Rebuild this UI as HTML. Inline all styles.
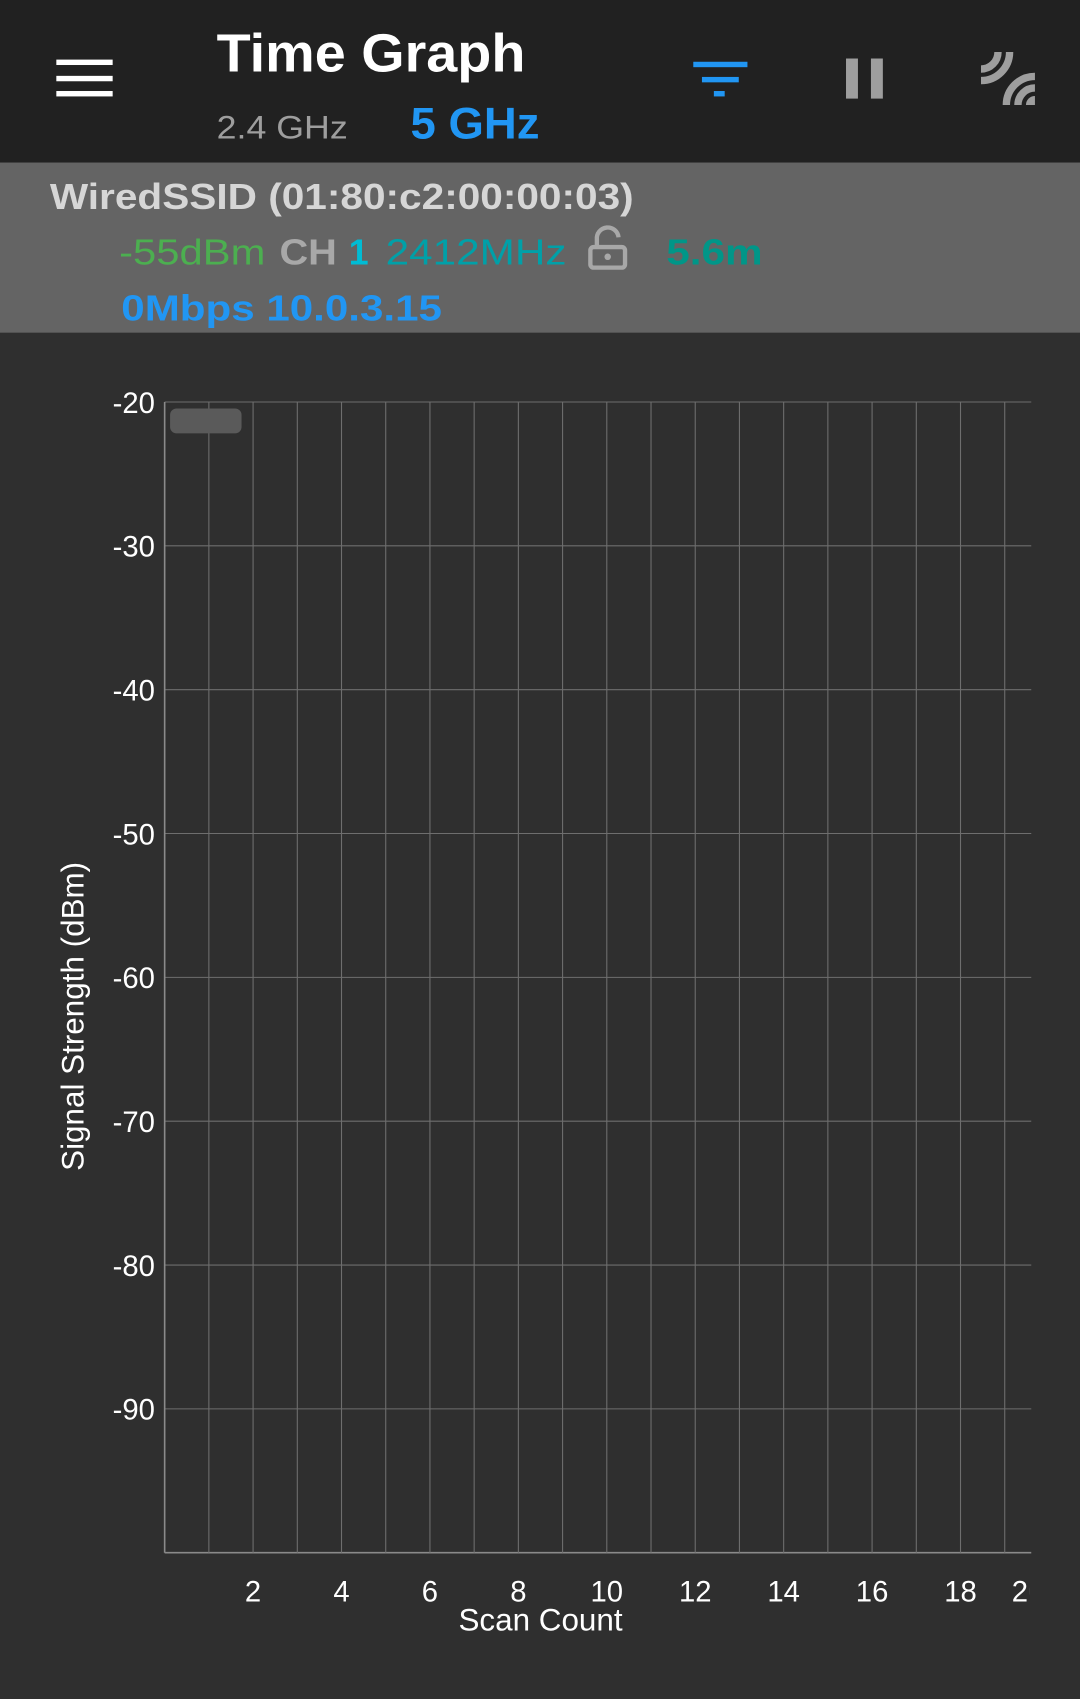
<!DOCTYPE html>
<html><head><meta charset="utf-8"><style>
html,body{margin:0;padding:0;background:#2f2f2f;}
svg{display:block;font-family:"Liberation Sans",sans-serif;}
</style></head><body>
<svg id="s" width="1080" height="1699" viewBox="0 0 997 1568" preserveAspectRatio="none">
<defs><clipPath id="plotclip"><rect x="0" y="1440" width="950" height="60"/></clipPath></defs>
<rect x="0" y="0" width="997" height="1568" fill="#2f2f2f"/>
<g>
<rect x="0" y="0" width="997" height="150" fill="#212121"/>
<g fill="#fff">
<rect x="52" y="55" width="52" height="5"/><rect x="52" y="70" width="52" height="5"/><rect x="52" y="84" width="52" height="5"/>
</g>
<text x="200" y="66" font-size="50" font-weight="bold" fill="#fff" textLength="285" lengthAdjust="spacingAndGlyphs">Time Graph</text>
<text x="200" y="128" font-size="30" fill="#9e9e9e" textLength="121" lengthAdjust="spacingAndGlyphs">2.4 GHz</text>
<text x="379" y="128" font-size="41" font-weight="bold" fill="#2196f3" textLength="119" lengthAdjust="spacingAndGlyphs">5 GHz</text>
<g fill="#2196f3">
<rect x="640" y="57" width="50" height="5"/><rect x="648" y="71" width="34" height="5"/><rect x="659" y="84" width="10" height="5"/>
</g>
<g fill="#9e9e9e">
<rect x="781" y="54" width="11" height="37"/><rect x="804" y="54" width="11" height="37"/>
</g>
<g>
<g fill="none" stroke="#9e9e9e" stroke-width="6.8">
<path d="M905.6 63.7 A15.7 15.7 0 0 0 921.3 48"/>
<path d="M905.6 74.4 A26.4 26.4 0 0 0 932 48"/>
<path d="M929 96.9 A26.4 26.4 0 0 1 955.4 70.5"/>
<path d="M939.7 96.9 A15.7 15.7 0 0 1 955.4 81.2"/>
</g>
<path d="M947.1 96.9 A8.3 8.3 0 0 1 955.4 88.6 V96.9 Z" fill="#9e9e9e"/>
</g>
</g>
<g>
<rect x="0" y="150" width="997" height="157" fill="#646464"/>
<text x="46" y="193" font-size="33" font-weight="bold" fill="#d6d6d6" textLength="539" lengthAdjust="spacingAndGlyphs">WiredSSID (01:80:c2:00:00:03)</text>
<text x="110" y="244" font-size="33" fill="#4caf50" textLength="135" lengthAdjust="spacingAndGlyphs">-55dBm</text>
<text x="258" y="244" font-size="33" font-weight="bold" fill="#a8a8a8" textLength="53" lengthAdjust="spacingAndGlyphs">CH</text>
<text x="322" y="244" font-size="33" font-weight="bold" fill="#00bcd4">1</text>
<text x="356" y="244" font-size="33" fill="#00a0a8" textLength="167" lengthAdjust="spacingAndGlyphs">2412MHz</text>
<g>
<rect x="545" y="228" width="32" height="19" rx="3" fill="none" stroke="#a8a8a8" stroke-width="4"/>
<path d="M551 228 V221 A10 10 0 0 1 571 219" fill="none" stroke="#a8a8a8" stroke-width="4"/>
<circle cx="561" cy="237" r="3" fill="#a8a8a8"/>
</g>
<text x="615" y="244" font-size="33" font-weight="bold" fill="#009688" textLength="89" lengthAdjust="spacingAndGlyphs">5.6m</text>
<text x="112" y="296" font-size="33" font-weight="bold" fill="#2196f3" textLength="296" lengthAdjust="spacingAndGlyphs">0Mbps 10.0.3.15</text>
</g>
<g id="chart"></g>
</svg>
<script>
const yTicks = [-20, -30, -40, -50, -60, -70, -80, -90];
const yGrid = [-20, -30, -40, -50, -60, -70, -80, -90, -100];
const xTicks = [2, 4, 6, 8, 10, 12, 14, 16, 18, 20];
const xGrid = [1, 2, 3, 4, 5, 6, 7, 8, 9, 10, 11, 12, 13, 14, 15, 16, 17, 18, 19];
const seriesValues = [];
const NS = "http://www.w3.org/2000/svg";
const L = 152, R = 952, T = 371, B = 1433;
const xMin = 0, xMax = 19.6, yMin = -100, yMax = -20;
function xs(v){ return L + (v - xMin) / (xMax - xMin) * (R - L); }
function ys(v){ return B - (v - yMin) / (yMax - yMin) * (B - T); }
const g = document.getElementById('chart');
function mk(tag, attrs){ const e = document.createElementNS(NS, tag); for (const k in attrs) e.setAttribute(k, attrs[k]); g.appendChild(e); return e; }
yGrid.forEach(v => {
  const l = mk('line', {x1: L, x2: R, y1: ys(v), y2: ys(v), stroke: v === yMin ? '#8a8a8a' : '#6e6e6e', 'stroke-width': v === yMin ? 1.5 : 1});
  
  
});
const ya = mk('line', {x1: L, x2: L, y1: T, y2: B, stroke: '#8a8a8a', 'stroke-width': 1.5});


xGrid.forEach(v => {
  const l = mk('line', {x1: xs(v), x2: xs(v), y1: T, y2: B, stroke: '#6e6e6e', 'stroke-width': 1});
  
  
});
yTicks.forEach(v => {
  const t = mk('text', {x: 143, y: ys(v) + 10, 'font-size': 27, fill: '#fff', 'text-anchor': 'end'});
  t.textContent = v;
  
  
});
xTicks.forEach(v => {
  const over = xs(v) > R;
  const t = mk('text', {x: over ? R - 18 : xs(v), y: 1478, 'font-size': 27, fill: '#fff', 'text-anchor': over ? 'start' : 'middle', 'clip-path': 'url(#plotclip)'});
  t.textContent = v;
  
  
});
const leg = mk('rect', {x: 157, y: 377, width: 66, height: 23, rx: 6, fill: '#5a5a5a'});


const xt = mk('text', {x: 499, y: 1505, 'font-size': 29, fill: '#fff', 'text-anchor': 'middle'});
xt.textContent = 'Scan Count';


const yt = mk('text', {x: 0, y: 0, 'font-size': 29, fill: '#fff', 'text-anchor': 'middle', transform: 'translate(77 938) rotate(-90)'});
yt.textContent = 'Signal Strength (dBm)';


seriesValues.forEach((v, i) => {
  const c = mk('circle', {cx: xs(i + 1), cy: ys(v), r: 3, fill: '#4caf50'});
  
  
});
</script>
</body></html>
